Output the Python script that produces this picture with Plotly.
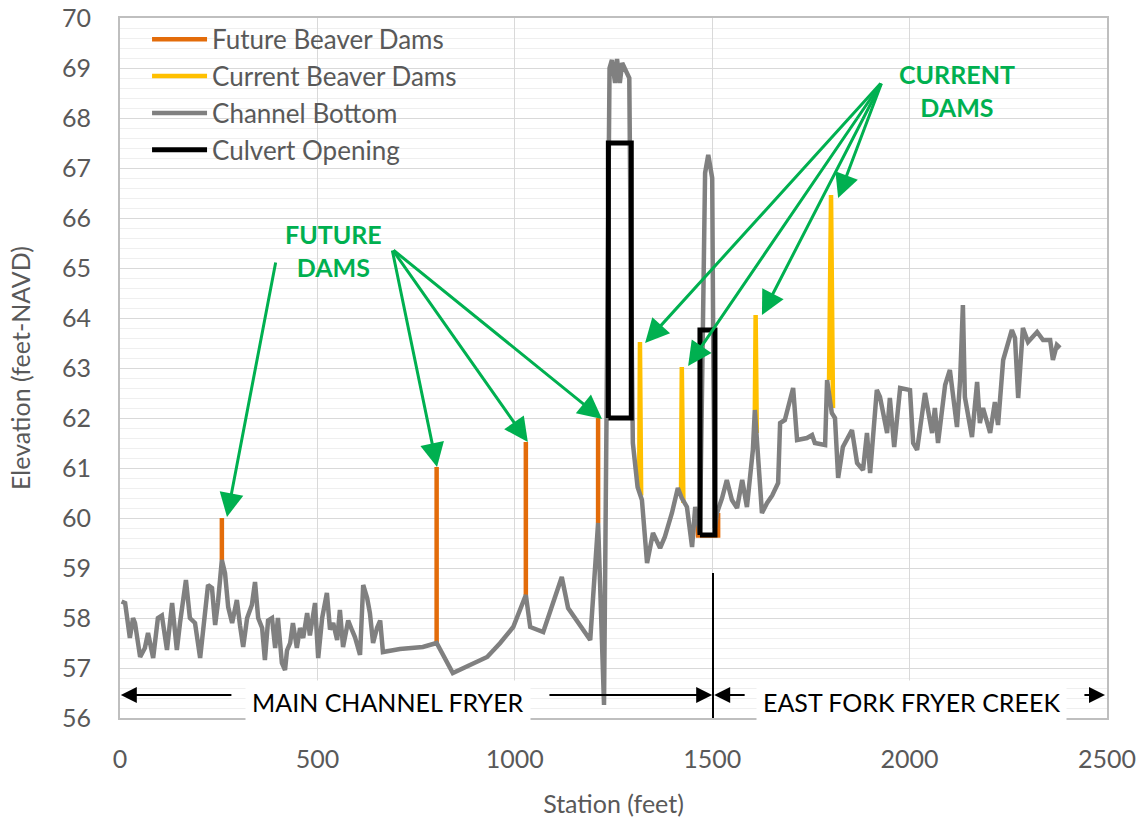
import plotly.graph_objects as go

# ---------------- data ----------------
station = [4, 13, 25, 33, 38, 51, 63, 71, 84, 96, 106, 119, 132, 144, 152, 167, 177, 190, 203, 210,
           223, 233, 241, 248, 258, 266, 274, 284, 296, 304, 312, 322, 334, 342, 350, 360, 367, 375,
           385, 393, 400, 410, 418, 423, 431, 438, 448, 456, 464, 474, 481, 494, 502, 512, 524, 532,
           540, 550, 557, 565, 578, 588, 595, 608, 616, 626, 633, 641, 651, 659, 666, 709, 767, 802,
           843, 930, 963, 996, 1028, 1039, 1072, 1119, 1135, 1191, 1200, 1211, 1226, 1236, 1240, 1246,
           1254, 1259, 1266, 1272, 1279, 1290, 1294, 1297, 1299, 1311, 1317, 1322, 1335, 1350, 1368,
           1380, 1398, 1413, 1423, 1436, 1449, 1457, 1464, 1469, 1475, 1482, 1490, 1500, 1503, 1507,
           1512, 1525, 1537, 1550, 1563, 1576, 1588, 1603, 1608, 1613, 1626, 1639, 1652, 1667, 1672,
           1684, 1695, 1705, 1715, 1740, 1753, 1760, 1786, 1791, 1803, 1811, 1819, 1831, 1854, 1867,
           1882, 1892, 1900, 1917, 1925, 1943, 1950, 1961, 1976, 2001, 2009, 2019, 2039, 2057, 2064,
           2072, 2090, 2102, 2120, 2128, 2135, 2140, 2158, 2171, 2178, 2186, 2204, 2216, 2224, 2237,
           2259, 2267, 2275, 2287, 2300, 2323, 2338, 2356, 2363, 2373, 2381]
channel_bottom = [58.33, 58.3, 57.6, 58.0, 57.9, 57.22, 57.4, 57.7, 57.2, 58.0, 58.05, 57.36, 58.3,
                  57.36, 57.9, 58.76, 58.0, 57.9, 57.2, 57.75, 58.66, 58.6, 57.86, 58.3, 59.16, 58.9,
                  58.22, 57.9, 58.36, 57.85, 57.42, 58.0, 58.26, 58.72, 58.0, 57.8, 57.16, 57.95,
                  58.0, 57.4, 58.0, 57.1, 56.96, 57.35, 57.5, 57.9, 57.4, 57.8, 57.6, 58.1, 57.65,
                  58.3, 57.2, 58.0, 58.5, 57.77, 57.9, 57.56, 58.16, 57.42, 57.95, 57.75, 57.62,
                  57.26, 58.66, 58.4, 58.1, 57.5, 57.8, 57.95, 57.32, 57.38, 57.42, 57.5,
                  56.9, 57.22, 57.5, 57.82, 58.46, 57.82, 57.72, 58.82, 58.2, 57.56, 58.76, 59.9,
                  56.26, 67.0, 69.0, 69.16, 68.7, 69.18, 68.7, 69.1, 69.0, 68.8, 65.0, 61.96, 61.5,
                  60.62, 60.5, 60.36, 59.1, 59.7, 59.4, 59.62, 60.1, 60.6, 60.4, 60.22, 59.42, 60.22,
                  59.9, 59.7, 63.0, 66.9, 67.26, 66.8, 63.0, 59.8, 60.1, 60.4, 60.76, 60.36, 60.2,
                  60.76, 60.22, 61.36, 62.16, 61.6, 60.1, 60.3, 60.45, 60.7, 61.9, 61.96, 62.3, 62.6,
                  61.56, 61.6, 61.66, 61.5, 61.46, 62.76, 62.1, 62.0, 60.8, 61.42, 61.76, 61.1, 60.96,
                  61.7, 60.9, 62.56, 62.42, 61.7, 62.4, 61.42, 62.6, 62.56, 61.5, 61.36, 62.5, 61.7,
                  62.2, 61.5, 62.66, 62.96, 61.82, 62.76, 64.26, 62.42, 61.62, 62.72, 61.9, 62.2,
                  61.7, 62.32, 61.86, 63.16, 63.76, 63.6, 62.4, 63.8, 63.52, 63.72, 63.56, 63.56,
                  63.16, 63.46, 63.4]

future_dam_x = [258, 258, None, 802, 802, None, 1028, 1028, None, 1211, 1211, None, 1462, 1464, 1515, 1515]
future_dam_y = [59.16, 60.0, None, 57.5, 61.02, None, 58.46, 61.52, None, 59.9, 62.0, None, 60.0, 59.65, 59.65, 60.1]

current_dam_x = [1315, 1317, 1320, None, 1421, 1423, 1427, None, 1608, 1610, 1613, None, 1796, 1801, 1806]
current_dam_y = [60.6, 63.52, 60.45, None, 60.5, 63.02, 60.3, None, 62.16, 64.06, 61.7, None, 62.76, 66.46, 62.2]

culvert_x = [1237, 1237, 1295, 1295, 1237, None, 1469, 1469, 1507, 1507, 1469]
culvert_y = [62.0, 67.5, 67.5, 62.0, 62.0, None, 59.66, 63.76, 63.76, 59.66, 59.66]

x_ticks = [0, 500, 1000, 1500, 2000, 2500]
y_ticks = list(range(56, 71))

# ---------------- styles ----------------
FONT = "Lato"
TXT = "#595959"
GREEN = "#00B050"

fig = go.Figure()
fig.add_trace(go.Scatter(x=future_dam_x, y=future_dam_y, mode="lines", name="Future Beaver Dams",
                         line=dict(color="#E36C0A", width=4.5), connectgaps=False))
fig.add_trace(go.Scatter(x=current_dam_x, y=current_dam_y, mode="lines", name="Current Beaver Dams",
                         line=dict(color="#FFC000", width=4.5), connectgaps=False))
fig.add_trace(go.Scatter(x=station, y=channel_bottom, mode="lines", name="Channel Bottom",
                         line=dict(color="#808080", width=4.5)))
fig.add_trace(go.Scatter(x=culvert_x, y=culvert_y, mode="lines", name="Culvert Opening",
                         line=dict(color="#000000", width=5), connectgaps=False))

ann = []
# green annotation texts
ann.append(dict(x=540, y=65.36, xref="x", yref="y", text="<b>FUTURE<br>DAMS</b>", showarrow=False,
                font=dict(family=FONT, size=25, color=GREEN), align="center"))
ann.append(dict(x=2120, y=68.56, xref="x", yref="y", text="<b>CURRENT<br>DAMS</b>", showarrow=False,
                font=dict(family=FONT, size=25, color=GREEN), align="center"))

def green_arrow(tail, head):
    return dict(x=head[0], y=head[1], ax=tail[0], ay=tail[1], xref="x", yref="y", axref="x", ayref="y",
                text="", showarrow=True, arrowhead=2, arrowsize=1.6, arrowwidth=3, arrowcolor=GREEN,
                standoff=0)

ann.append(green_arrow((395, 65.14), (271, 60.02)))
for h in [(803, 61.02), (1033, 61.52), (1221, 61.98)]:
    ann.append(green_arrow((689, 65.38), h))
for h in [(1330, 63.5), (1439, 63.04), (1626, 64.06), (1819, 66.4)]:
    ann.append(green_arrow((1930, 68.72), h))

# bottom reach labels
def black_arrow(tail, head):
    return dict(x=head, y=56.46, ax=tail, ay=56.46, xref="x", yref="y", axref="x", ayref="y",
                text="", showarrow=True, arrowhead=2, arrowsize=1.6, arrowwidth=2, arrowcolor="black",
                standoff=0)

ann.append(dict(x=679, y=56.32, xref="x", yref="y", text="MAIN CHANNEL FRYER", showarrow=False,
                font=dict(family=FONT, size=25, color="black"), bgcolor="white", borderpad=6))
ann.append(dict(x=2006, y=56.32, xref="x", yref="y", text="EAST FORK FRYER CREEK", showarrow=False,
                font=dict(family=FONT, size=25, color="black"), bgcolor="white", borderpad=6))
ann.append(black_arrow(286, 2))
ann.append(black_arrow(1084, 1500))
ann.append(black_arrow(1586, 1505))
ann.append(black_arrow(2439, 2495))

fig.update_layout(
    width=1141, height=820,
    margin=dict(l=120, r=34, t=18, b=102),
    paper_bgcolor="white", plot_bgcolor="white",
    font=dict(family=FONT, size=25, color=TXT),
    showlegend=True,
    legend=dict(x=0.0274, y=1.003, xanchor="left", yanchor="top", bgcolor="rgba(0,0,0,0)",
                font=dict(family=FONT, size=26, color=TXT), itemwidth=55, traceorder="normal"),
    annotations=ann,
    shapes=[
        dict(type="rect", xref="paper", yref="paper", x0=0.008, x1=0.373, y0=0.786, y1=0.998,
             fillcolor="white", line=dict(width=0), layer="between"),
        dict(type="line", xref="x", yref="y", x0=1502, x1=1502, y0=56, y1=58.9,
             line=dict(color="black", width=2)),
    ],
)
fig.update_xaxes(range=[0, 2500], tickvals=x_ticks, showgrid=True, gridcolor="#d9d9d9", gridwidth=1,
                 showline=True, linecolor="#bfbfbf", linewidth=2, mirror=True, zeroline=False,
                 ticks="", ticklabelstandoff=18, automargin=False,
                 tickfont=dict(family=FONT, size=25, color=TXT),
                 title=dict(text="Station (feet)", font=dict(family=FONT, size=25, color=TXT), standoff=23))
fig.update_yaxes(range=[56, 70], tickvals=y_ticks, showgrid=True, gridcolor="#d9d9d9", gridwidth=1,
                 minor=dict(dtick=0.2, showgrid=True, gridcolor="#efefef", gridwidth=1),
                 showline=True, linecolor="#bfbfbf", linewidth=2, mirror=True, zeroline=False,
                 ticks="", ticklabelstandoff=22, automargin=False,
                 tickfont=dict(family=FONT, size=25, color=TXT),
                 title=dict(text="Elevation (feet-NAVD)", font=dict(family=FONT, size=25, color=TXT), standoff=24))

fig.write_html("out.html")
